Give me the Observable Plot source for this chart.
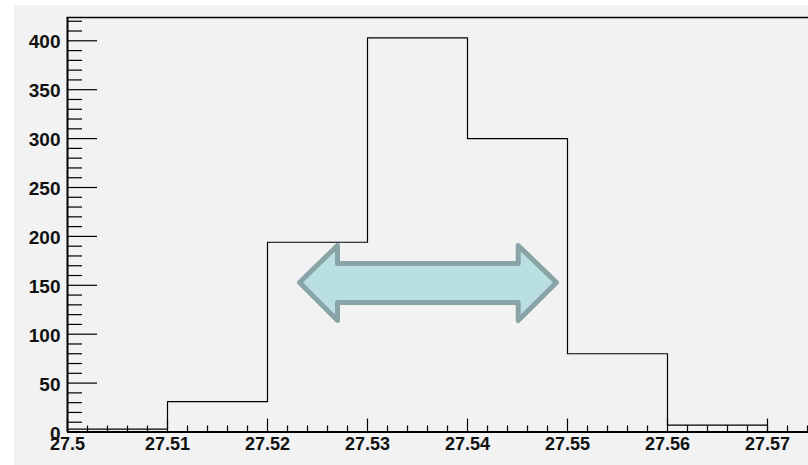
<!DOCTYPE html>
<html>
<head>
<meta charset="utf-8">
<script src="https://cdn.jsdelivr.net/npm/d3@7"></script>
<script src="https://cdn.jsdelivr.net/npm/@observablehq/plot@0.6"></script>
<style>
  html, body { margin: 0; padding: 0; background: #ffffff; }
  #wrap { position: relative; width: 808px; height: 465px; overflow: hidden; }
  #bg { position: absolute; left: 14px; top: 5px; width: 794px; height: 460px; background: #f2f2f2; }
  #chart { position: absolute; left: 0; top: 0; }
  #chart svg { background: transparent; display: block; }
</style>
</head>
<body>
<div id="wrap"><div id="bg"></div><div id="chart"></div></div>
<script>
// Histogram bins (lower edges) and counts
const binEdges = [27.50, 27.51, 27.52, 27.53, 27.54, 27.55, 27.56, 27.57];
const binCounts = [3, 31, 194, 403, 300, 80, 7];

// Axis ticks
const xMajorTicks = [27.50, 27.51, 27.52, 27.53, 27.54, 27.55, 27.56, 27.57];
const xTickLabels = ["27.5", "27.51", "27.52", "27.53", "27.54", "27.55", "27.56", "27.57"];
const yMajorTicks = [0, 50, 100, 150, 200, 250, 300, 350, 400];
const yTickLabels = ["0", "50", "100", "150", "200", "250", "300", "350", "400"];

// Double-headed arrow annotation (data coordinates)
const arrowX = [27.5232, 27.5270, 27.5270, 27.54507, 27.54507, 27.5489, 27.54507, 27.54507, 27.5270, 27.5270];
const arrowY = [152.9, 190.7, 172.3, 172.3, 190.7, 152.9, 114.0, 132.4, 132.4, 114.0];

const xMinorTicks = d3.range(0, 38).map(i => +(27.5 + i * 0.002).toFixed(4)).filter(v => !xMajorTicks.some(m => Math.abs(m - v) < 1e-9));
const yMinorTicks = d3.range(0, 43).map(i => i * 10).filter(v => v % 50 !== 0);

// Step outline points
const steps = [{x: binEdges[0], y: 0}];
binCounts.forEach((c, i) => steps.push({x: binEdges[i], y: c}));
steps.push({x: binEdges[binEdges.length - 1], y: 0});

const arrow = arrowX.map((x, i) => ({x, y: arrowY[i]}));

const W = 808, H = 465;
const mL = 67, mT = 17, mB = 33.5, mR = 0;
const plotW = W - mL - mR, plotH = H - mT - mB;

const font = "'Liberation Sans', Arial, Helvetica, sans-serif";

const chart = Plot.plot({
  width: W,
  height: H,
  marginLeft: mL,
  marginTop: mT,
  marginBottom: mB,
  marginRight: mR,
  style: {background: "transparent", fontFamily: font},
  x: {domain: [27.5, 27.5 + plotW / 10000], axis: null},
  y: {domain: [0, plotH / 0.978], axis: null},
  marks: [
    // arrow annotation
    Plot.line(arrow, {x: "x", y: "y", curve: "linear-closed", fill: "#b9dfe2", stroke: "#88a4a6", strokeWidth: 5, strokeLinejoin: "round"}),
    // histogram outline
    Plot.line(steps, {x: "x", y: "y", curve: "step-after", stroke: "#000", strokeWidth: 1.2}),
    // x ticks
    Plot.tickX(xMajorTicks, {x: d => d, insetTop: plotH - 13, stroke: "#000", strokeWidth: 1.2}),
    Plot.tickX(xMinorTicks, {x: d => d, insetTop: plotH - 6, stroke: "#000", strokeWidth: 1.2}),
    // y ticks
    Plot.tickY(yMajorTicks, {y: d => d, insetRight: plotW - 30, stroke: "#000", strokeWidth: 1.2}),
    Plot.tickY(yMinorTicks, {y: d => d, insetRight: plotW - 15, stroke: "#000", strokeWidth: 1.2}),
    // frame lines
    Plot.ruleY([0], {stroke: "#000", strokeWidth: 2}),
    Plot.ruleX([27.5], {stroke: "#000", strokeWidth: 2}),
    Plot.frame({anchor: "top", stroke: "#000", strokeWidth: 1.6}),
    // labels
    Plot.text(xMajorTicks, {x: d => d, frameAnchor: "bottom", dy: 12, lineAnchor: "middle", text: (d, i) => xTickLabels[i], fontSize: 18, fontWeight: "bold", fill: "#111"}),
    Plot.text(yMajorTicks, {y: d => d, frameAnchor: "left", dx: -7, dy: 1.5, textAnchor: "end", lineAnchor: "middle", text: (d, i) => yTickLabels[i], fontSize: 19, fontWeight: "bold", fill: "#111"})
  ]
});
document.getElementById("chart").appendChild(chart);
</script>
</body>
</html>
